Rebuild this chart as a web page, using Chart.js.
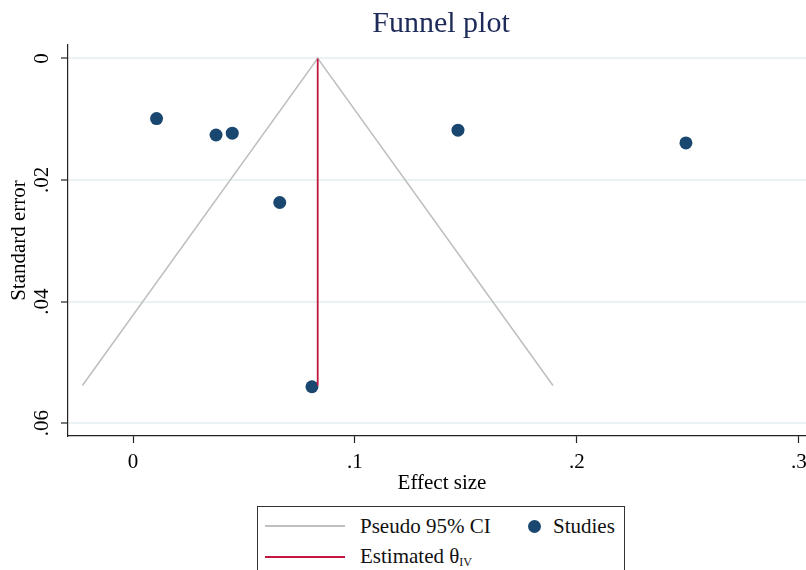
<!DOCTYPE html>
<html>
<head>
<meta charset="utf-8">
<title>Funnel plot</title>
<script src="https://cdn.jsdelivr.net/npm/chart.js@4.4.1/dist/chart.umd.min.js"></script>
<style>
  html, body { margin: 0; padding: 0; background: #fff; overflow: hidden; }
  #wrap { position: relative; width: 882px; height: 570px; }
  #box { position: absolute; left: 0; top: 0; width: 882px; height: 500px; }
  #legend {
    position: absolute; left: 257px; top: 506px; width: 368px; height: 80px;
    border: 1px solid #333; box-sizing: border-box;
    font-family: 'Liberation Serif', 'Times New Roman', serif; font-size: 21px; color: #111;
  }
  .item { position: absolute; height: 30px; display: flex; align-items: center; white-space: nowrap; }
  .line { display: inline-block; width: 80px; height: 0; border-top: 2px solid; margin-right: 15px; }
  .dot { display: inline-block; width: 13px; height: 13px; border-radius: 50%; margin-right: 12px; }
  sub { font-size: 12px; vertical-align: -3px; }
</style>
</head>
<body>
<div id="wrap">
  <div id="box"><canvas id="funnel"></canvas></div>
  <div id="legend"></div>
</div>
<script>
// studies (effect size, standard error)
const studyEffect = [0.0106, 0.0374, 0.0447, 0.0661, 0.0806, 0.1464, 0.2491];
const studySE = [0.0099, 0.0126, 0.0123, 0.0237, 0.0540, 0.0118, 0.0139];

// pseudo 95% CI funnel and estimated effect
const ciEffect = [-0.0228, 0.0832, 0.1892];
const ciSE = [0.0538, 0, 0.0538];
const thetaEffect = [0.0832, 0.0832];
const thetaSE = [0, 0.0538];

const xTickValues = [0, 0.1, 0.2, 0.3];
const xTickLabels = ['0', '.1', '.2', '.3'];
const yTickValues = [0, 0.02, 0.04, 0.06];
const yTickLabels = ['0', '.02', '.04', '.06'];

const toPoints = (xs, ys) => xs.map((x, i) => ({ x: x, y: ys[i] }));

Chart.defaults.font.family = "'Liberation Serif', 'Times New Roman', serif";
Chart.defaults.color = '#000';

// legend drawn as html so the subscript works
const htmlLegend = {
  id: 'htmlLegend',
  afterUpdate(chart) {
    const box = document.getElementById('legend');
    box.innerHTML = '';
    const cols = [7, 270];
    const rows = [4, 35];
    chart.data.datasets.forEach((ds, i) => {
      const item = document.createElement('div');
      item.className = 'item';
      item.style.left = cols[i % 2] + 'px';
      item.style.top = rows[Math.floor(i / 2)] + 'px';
      const sym = document.createElement('span');
      if (ds.showLine) {
        sym.className = 'line';
        sym.style.borderColor = ds.borderColor;
      } else {
        sym.className = 'dot';
        sym.style.background = ds.backgroundColor;
      }
      item.appendChild(sym);
      const parts = ds.label.split('_');
      const txt = document.createElement('span');
      txt.textContent = parts[0];
      if (parts[1]) {
        const sub = document.createElement('sub');
        sub.textContent = parts[1];
        txt.appendChild(sub);
      }
      item.appendChild(txt);
      box.appendChild(item);
    });
  }
};

const ctx = document.getElementById('funnel').getContext('2d');
new Chart(ctx, {
  type: 'scatter',
  data: {
    datasets: [
      {
        label: 'Pseudo 95% CI',
        data: toPoints(ciEffect, ciSE),
        showLine: true,
        borderColor: '#c0c0c0',
        borderWidth: 1.6,
        pointRadius: 0,
        order: 2
      },
      {
        label: 'Studies',
        data: toPoints(studyEffect, studySE),
        showLine: false,
        backgroundColor: '#1a476f',
        borderColor: '#1a476f',
        pointRadius: 6.5,
        pointBorderWidth: 0,
        order: 1
      },
      {
        label: 'Estimated θ_IV',
        data: toPoints(thetaEffect, thetaSE),
        showLine: true,
        borderColor: '#c4163f',
        borderWidth: 1.8,
        pointRadius: 0,
        order: 0
      }
    ]
  },
  options: {
    responsive: true,
    maintainAspectRatio: false,
    animation: false,
    layout: { padding: 0 },
    plugins: {
      legend: { display: false },
      tooltip: { enabled: false },
      title: {
        display: true,
        text: 'Funnel plot',
        color: '#1e2b58',
        font: { size: 30, weight: 'normal' },
        padding: { top: 6, bottom: 3 }
      }
    },
    scales: {
      x: {
        type: 'linear',
        min: -0.0293,
        max: 0.3077,
        afterBuildTicks: axis => { axis.ticks = xTickValues.map(v => ({ value: v })); },
        afterFit: s => { s.height = 64; },
        ticks: {
          callback: v => xTickLabels[xTickValues.indexOf(v)],
          font: { size: 21 },
          padding: 7,
          maxRotation: 0
        },
        grid: { drawOnChartArea: false, tickLength: 7, tickColor: '#222', tickWidth: 1.2 },
        border: { display: true, color: '#222', width: 1.2 },
        title: { display: true, text: 'Effect size', font: { size: 21 }, padding: { top: 0, bottom: 4.4 } }
      },
      y: {
        type: 'linear',
        reverse: true,
        min: -0.0022,
        max: 0.0621,
        afterBuildTicks: axis => { axis.ticks = yTickValues.map(v => ({ value: v })); },
        afterFit: s => { s.width = 68; },
        ticks: {
          callback: v => yTickLabels[yTickValues.indexOf(v)],
          font: { size: 21 },
          minRotation: 90,
          maxRotation: 90,
          crossAlign: 'center',
          padding: 5
        },
        grid: { color: '#eaf2f3', lineWidth: 2, tickLength: 7, tickColor: '#222', tickWidth: 1.2 },
        border: { display: true, color: '#222', width: 1.2 },
        title: { display: true, text: 'Standard error', font: { size: 21 }, padding: { top: 6.4, bottom: 0 } }
      },
      yRight: {
        type: 'linear',
        position: 'right',
        display: true,
        afterFit: s => { s.width = 66; },
        ticks: { display: false },
        grid: { display: false },
        border: { display: false }
      }
    }
  },
  plugins: [htmlLegend]
});
</script>
</body>
</html>
